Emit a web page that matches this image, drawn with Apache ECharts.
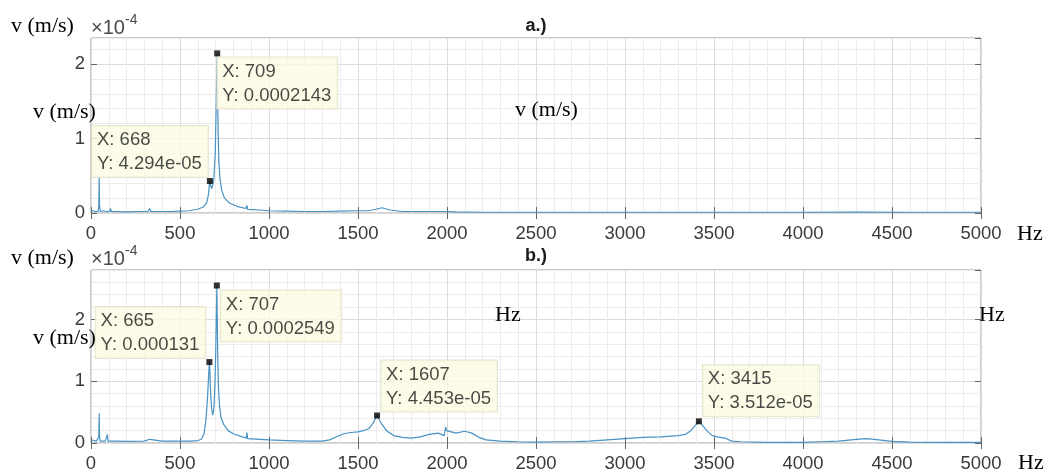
<!DOCTYPE html>
<html>
<head>
<meta charset="utf-8">
<script src="https://cdn.jsdelivr.net/npm/echarts@6/dist/echarts.min.js"></script>
<style>
  html, body { margin: 0; padding: 0; background: #fff; }
  #chart { width: 1048px; height: 473px; }
</style>
</head>
<body>
<div id="chart"></div>
<script>
// Velocity spectrum, panel a.) — frequency (Hz) and amplitude (m/s)
const freqA = [0, 10, 20, 40, 44, 46, 48, 52, 70, 85, 90, 95, 105, 110, 114, 140, 200, 260, 320, 330, 336, 400,
  450, 500, 550, 600, 630, 650, 660, 665, 668, 672, 680, 690, 698, 703, 707, 709, 711, 714, 718, 725, 735, 750,
  780, 820, 870, 876, 880, 950, 1000, 1100, 1200, 1300, 1400, 1500, 1560, 1600, 1635, 1680, 1750, 1900, 2000,
  2050, 2200, 2500, 3000, 3500, 4000, 4300, 4600, 5000];
const velA = [0.04e-4, 0.03e-4, 0.02e-4, 0.02e-4, 0.1e-4, 0.48e-4, 0.1e-4, 0.02e-4, 0.03e-4, 0.02e-4, 0.04e-4,
  0.02e-4, 0.02e-4, 0.06e-4, 0.02e-4, 0.02e-4, 0.015e-4, 0.02e-4, 0.02e-4, 0.06e-4, 0.02e-4, 0.02e-4,
  0.02e-4, 0.025e-4, 0.03e-4, 0.05e-4, 0.08e-4, 0.14e-4, 0.25e-4, 0.38e-4, 0.4294e-4, 0.36e-4, 0.33e-4,
  0.45e-4, 0.8e-4, 1.4e-4, 2.0e-4, 2.143e-4, 1.7e-4, 1.1e-4, 0.7e-4, 0.45e-4, 0.3e-4, 0.2e-4,
  0.13e-4, 0.09e-4, 0.06e-4, 0.1e-4, 0.05e-4, 0.04e-4, 0.03e-4, 0.025e-4, 0.02e-4, 0.02e-4, 0.025e-4,
  0.03e-4, 0.03e-4, 0.05e-4, 0.07e-4, 0.04e-4, 0.02e-4, 0.02e-4, 0.02e-4,
  0.015e-4, 0.01e-4, 0.01e-4, 0.01e-4, 0.01e-4, 0.01e-4, 0.012e-4, 0.01e-4, 0.01e-4];

// Velocity spectrum, panel b.)
const freqB = [0, 10, 30, 44, 46, 48, 52, 80, 88, 92, 96, 150, 200, 300, 330, 336, 400, 500, 560, 600, 620, 635,
  645, 655, 661, 665, 668, 672, 678, 684, 690, 696, 701, 705, 707, 709, 712, 716, 722, 730, 745, 770, 800,
  850, 872, 876, 880, 950, 1000, 1100, 1200, 1300, 1340, 1380, 1420, 1460, 1500, 1530, 1560, 1585, 1600,
  1607, 1615, 1635, 1660, 1700, 1750, 1800, 1850, 1900, 1950, 1985, 1992, 1998, 2005, 2050, 2100, 2140,
  2180, 2220, 2300, 2400, 2500, 2600, 2700, 2800, 2900, 3000, 3100, 3200, 3300, 3340, 3370, 3400, 3415,
  3430, 3460, 3490, 3520, 3560, 3600, 3650, 3800, 4000, 4100, 4200, 4300, 4350, 4400, 4500, 4600, 4800, 5000];
const velB = [0.05e-4, 0.03e-4, 0.03e-4, 0.1e-4, 0.48e-4, 0.1e-4, 0.03e-4, 0.03e-4, 0.04e-4, 0.14e-4, 0.03e-4,
  0.03e-4, 0.025e-4, 0.03e-4, 0.06e-4, 0.03e-4, 0.03e-4, 0.03e-4, 0.03e-4, 0.04e-4, 0.06e-4, 0.15e-4,
  0.35e-4, 0.75e-4, 1.1e-4, 1.31e-4, 1.15e-4, 0.8e-4, 0.55e-4, 0.45e-4, 0.55e-4, 0.9e-4, 1.5e-4, 2.2e-4,
  2.549e-4, 2.1e-4, 1.4e-4, 0.9e-4, 0.6e-4, 0.42e-4, 0.3e-4, 0.2e-4, 0.15e-4,
  0.1e-4, 0.08e-4, 0.17e-4, 0.07e-4, 0.06e-4, 0.05e-4, 0.04e-4, 0.03e-4, 0.03e-4, 0.05e-4, 0.1e-4,
  0.15e-4, 0.17e-4, 0.18e-4, 0.2e-4, 0.23e-4, 0.32e-4, 0.41e-4,
  0.4453e-4, 0.4e-4, 0.3e-4, 0.2e-4, 0.12e-4, 0.09e-4, 0.08e-4, 0.1e-4, 0.14e-4, 0.16e-4, 0.12e-4,
  0.26e-4, 0.2e-4, 0.17e-4, 0.16e-4, 0.19e-4, 0.16e-4,
  0.09e-4, 0.05e-4, 0.03e-4, 0.02e-4, 0.015e-4, 0.02e-4, 0.02e-4, 0.03e-4, 0.05e-4, 0.07e-4, 0.09e-4,
  0.1e-4, 0.12e-4, 0.14e-4, 0.2e-4, 0.3e-4, 0.3512e-4,
  0.3e-4, 0.2e-4, 0.12e-4, 0.1e-4, 0.08e-4, 0.03e-4, 0.02e-4, 0.01e-4, 0.01e-4, 0.02e-4, 0.03e-4,
  0.06e-4, 0.07e-4, 0.06e-4, 0.025e-4, 0.015e-4, 0.01e-4, 0.01e-4];

// Data tips: [frequency, velocity]
const tipsA = [[709, 0.0002143], [668, 4.294e-05]];
const tipsB = [[665, 0.000131], [707, 0.0002549], [1607, 4.453e-05], [3415, 3.512e-05]];

const panelTitles = ['a.)', 'b.)'];
const yMaxes = [2.35e-4, 2.8e-4];
const xTicks = [0, 5000, 500];

// Label anchoring for each tip box (style only)
const tipPlacementA = [
  { position: [3, 7], align: 'left', verticalAlign: 'top' },
  { position: [1, -1], align: 'right', verticalAlign: 'bottom' }
];
const tipPlacementB = [
  { position: [-1, -1], align: 'right', verticalAlign: 'bottom' },
  { position: [7, 8], align: 'left', verticalAlign: 'top' },
  { position: [7, -1], align: 'left', verticalAlign: 'bottom' },
  { position: [7, -2], align: 'left', verticalAlign: 'bottom' }
];

const SANS = '"Liberation Sans", Arial, Helvetica, sans-serif';
const SERIF = '"Liberation Serif", "Times New Roman", serif';
const TICK_COLOR = '#3a3a3a';
const MAJOR_GRID = '#dcdcdc';
const MINOR_GRID = '#ececec';

function fmtY(v) {
  if (v < 1e-4) return v.toExponential(3).replace(/e-(\d)$/, 'e-0$1');
  return String(Number(v.toPrecision(4)));
}

const grids = [
  { left: 91, right: 67, top: 38, height: 175 },
  { left: 91, right: 67, top: 270, height: 173 }
];

const xAxes = [];
const yAxes = [];
grids.forEach((g, gi) => {
  // bottom x axis with labels and grid
  xAxes.push({
    type: 'value', gridIndex: gi, position: 'bottom',
    min: xTicks[0], max: xTicks[1], interval: xTicks[2],
    axisLine: { show: false },
    axisTick: { show: true, inside: true, length: 6, lineStyle: { color: '#666' } },
    axisLabel: { color: TICK_COLOR, fontFamily: SANS, fontSize: 18.5, margin: 11, formatter: v => String(v) },
    splitLine: { show: true, lineStyle: { color: MAJOR_GRID, width: 1 } },
    minorTick: { show: false, splitNumber: 5 },
    minorSplitLine: { show: true, lineStyle: { color: MINOR_GRID, width: 1 } }
  });
  // top mirror ticks
  xAxes.push({
    type: 'value', gridIndex: gi, position: 'top',
    min: xTicks[0], max: xTicks[1], interval: xTicks[2],
    axisLine: { show: false },
    axisTick: { show: true, inside: true, length: 6, lineStyle: { color: '#666' } },
    axisLabel: { show: false }, splitLine: { show: false }
  });
  // fine horizontal grid every 0.2e-4
  yAxes.push({
    type: 'value', gridIndex: gi, position: 'left',
    min: 0, max: yMaxes[gi], interval: 0.2e-4,
    axisLine: { show: false }, axisTick: { show: false }, axisLabel: { show: false },
    splitLine: { show: true, lineStyle: { color: [MAJOR_GRID, MINOR_GRID, MINOR_GRID, MINOR_GRID, MINOR_GRID], width: 1 } }
  });
  // major ticks and labels
  yAxes.push({
    type: 'value', gridIndex: gi, position: 'left',
    min: 0, max: yMaxes[gi], interval: 1e-4,
    axisLine: { show: false },
    axisTick: { show: true, inside: true, length: 6, lineStyle: { color: '#666' } },
    axisLabel: {
      color: TICK_COLOR, fontFamily: SANS, fontSize: 18.5, margin: 6, showMaxLabel: false,
      formatter: v => {
        const u = v * 1e4;
        return Math.abs(u - Math.round(u)) < 1e-6 ? String(Math.round(u)) : '';
      }
    },
    splitLine: { show: false }
  });
  // right mirror ticks
  yAxes.push({
    type: 'value', gridIndex: gi, position: 'right',
    min: 0, max: yMaxes[gi], interval: 1e-4,
    axisLine: { show: false },
    axisTick: { show: true, inside: true, length: 6, lineStyle: { color: '#666' } },
    axisLabel: { show: false }, splitLine: { show: false }
  });
});

function lineSeries(gi, freqs, vals) {
  return {
    type: 'line', xAxisIndex: gi * 2, yAxisIndex: gi * 3,
    data: freqs.map((f, i) => [f, vals[i]]),
    showSymbol: false, symbol: 'none', smooth: false, z: 3,
    lineStyle: { color: '#4892c4', width: 1.2 },
    emphasis: { disabled: true }, silent: true
  };
}

function tipSeries(gi, tips, placement) {
  return {
    type: 'scatter', xAxisIndex: gi * 2, yAxisIndex: gi * 3,
    symbol: 'rect', symbolSize: 6, z: 5,
    itemStyle: { color: '#000' },
    silent: true,
    data: tips.map((t, i) => ({
      value: t,
      label: {
        show: true,
        position: placement[i].position,
        align: placement[i].align,
        verticalAlign: placement[i].verticalAlign,
        // rich tokens keep both lines flush left inside the box
        formatter: '{t|X: ' + t[0] + '}\n{t|Y: ' + fmtY(t[1]) + '}',
        rich: {
          t: { fontFamily: SANS, fontSize: 18.5, color: '#1a1a1a', lineHeight: 24, align: 'left' }
        },
        backgroundColor: '#fbfbe4', borderColor: '#dedec8', borderWidth: 1,
        padding: [2, 6, 1, 5]
      }
    }))
  };
}

const serifText = (text, x, y, align) => ({
  type: 'text', x, y, z: 100,
  style: { text, font: '22px ' + SERIF, fill: '#000', textAlign: align || 'left', textVerticalAlign: 'middle' }
});

const graphics = [];
[[26, 28, 20], [256, 259, 251]].forEach(([titleY, expY, supY], gi) => {
  graphics.push({
    type: 'text', x: 536, y: titleY, z: 100,
    style: { text: panelTitles[gi], font: 'bold 18px ' + SANS, fill: '#1a1a1a', textAlign: 'center', textVerticalAlign: 'middle' }
  });
  graphics.push({
    type: 'text', x: 91, y: expY, z: 100,
    style: { text: '×10', font: '20px ' + SANS, fill: '#4a4a4a', textAlign: 'left', textVerticalAlign: 'middle' }
  });
  graphics.push({
    type: 'text', x: 125, y: supY, z: 100,
    style: { text: '-4', font: '14px ' + SANS, fill: '#4a4a4a', textAlign: 'left', textVerticalAlign: 'middle' }
  });
});
graphics.push(serifText('v (m/s)', 11, 26));
graphics.push(serifText('v (m/s)', 33, 112));
graphics.push(serifText('v (m/s)', 515, 110));
graphics.push(serifText('Hz', 1017, 234));
graphics.push(serifText('v (m/s)', 11, 258));
graphics.push(serifText('v (m/s)', 33, 338));
graphics.push(serifText('Hz', 495, 315));
graphics.push(serifText('Hz', 979, 315));
graphics.push(serifText('Hz', 1018, 463));

const chart = echarts.init(document.getElementById('chart'), null, { renderer: 'canvas' });
chart.setOption({
  animation: false,
  backgroundColor: '#fff',
  grid: grids.map(g => Object.assign({ show: true, borderColor: '#9a9a9a', borderWidth: 1, backgroundColor: '#fff', z: 0 }, g)),
  xAxis: xAxes,
  yAxis: yAxes,
  series: [
    lineSeries(0, freqA, velA),
    lineSeries(1, freqB, velB),
    tipSeries(0, tipsA, tipPlacementA),
    tipSeries(1, tipsB, tipPlacementB)
  ],
  graphic: graphics
});
</script>
</body>
</html>
